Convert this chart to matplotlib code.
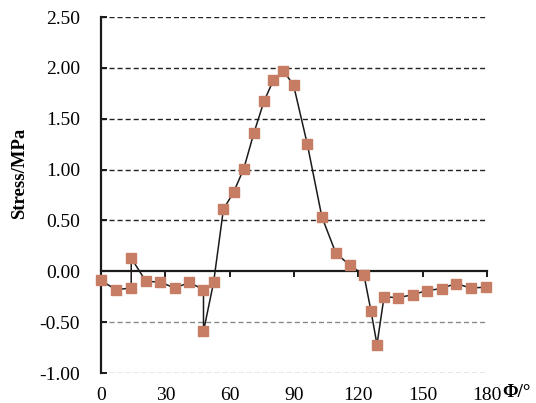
import matplotlib.pyplot as plt
import numpy as np

# angle (deg) and stress (MPa)
phi = [0, 6.9, 14.1, 14.1, 21.0, 27.7, 34.3, 41.2, 47.8, 47.8, 52.5,
       57.1, 61.9, 66.6, 71.3, 76.0, 80.4, 85.1, 89.8, 96.2, 103.0,
       109.5, 116.0, 122.6, 125.9, 128.7, 132.0, 138.5, 145.3, 151.9,
       158.8, 165.4, 172.5, 179.7]
stress = [-0.09, -0.18, -0.165, 0.13, -0.10, -0.105, -0.165, -0.11, -0.18, -0.59, -0.11,
          0.61, 0.78, 1.01, 1.36, 1.67, 1.88, 1.97, 1.83, 1.25, 0.535,
          0.18, 0.06, -0.035, -0.39, -0.72, -0.25, -0.26, -0.23, -0.19,
          -0.17, -0.12, -0.165, -0.155]
xticks = [0, 30, 60, 90, 120, 150, 180]
yticks = [-1.0, -0.5, 0.0, 0.5, 1.0, 1.5, 2.0, 2.5]

plt.rcParams['font.family'] = ['Liberation Serif', 'DejaVu Serif']

fig = plt.figure(figsize=(5.36, 4.03), dpi=100)
ax = fig.add_axes([0.1884, 0.0744, 0.7202, 0.8834])

ax.plot(phi, stress, color='#1a1a1a', lw=1.1, marker='s', ms=7.5,
        mfc='#C67D63', mec='#C67D63', zorder=3, clip_on=False)

ax.set_xlim(0, 180)
ax.set_ylim(-1.0, 2.5)
ax.set_yticks(yticks)
ax.set_yticklabels(['%.2f' % v for v in yticks], fontsize=14)

for s in ['top', 'right']:
    ax.spines[s].set_visible(False)
ax.spines['bottom'].set_position(('data', 0))
ax.spines['left'].set_linewidth(1.6)
ax.spines['bottom'].set_linewidth(1.6)
ax.spines['left'].set_color('#1a1a1a')
ax.spines['bottom'].set_color('#1a1a1a')

ax.set_xticks(xticks)
ax.tick_params(axis='x', direction='out', length=4, width=1.4, color='#1a1a1a',
               labelbottom=False)
ax.tick_params(axis='y', direction='in', length=4, width=1.4, color='#1a1a1a', pad=15)

sec = ax.secondary_xaxis(0)
sec.set_xticks(xticks)
sec.set_xticklabels([str(v) for v in xticks], fontsize=14)
sec.tick_params(length=0, pad=10)
sec.spines['bottom'].set_visible(False)

ax.yaxis.grid(True, linestyle=(0, (3.6, 2.2)), lw=1.0)
for tk, line in zip(yticks, ax.yaxis.get_gridlines()):
    line.set_color('#222222' if tk > 0 else '#8a8a8a')
    if tk == 0:
        line.set_visible(False)
ax.set_axisbelow(True)

ax.set_ylabel('Stress/MPa', fontsize=13.5, fontweight='bold')
ax.yaxis.set_label_coords(-0.19, 0.56)
ax.text(1.04, -0.056, 'Φ/°', transform=ax.transAxes, fontsize=13.5,
        fontweight='bold', ha='left', va='center')

fig.savefig('out.png', dpi=100)
